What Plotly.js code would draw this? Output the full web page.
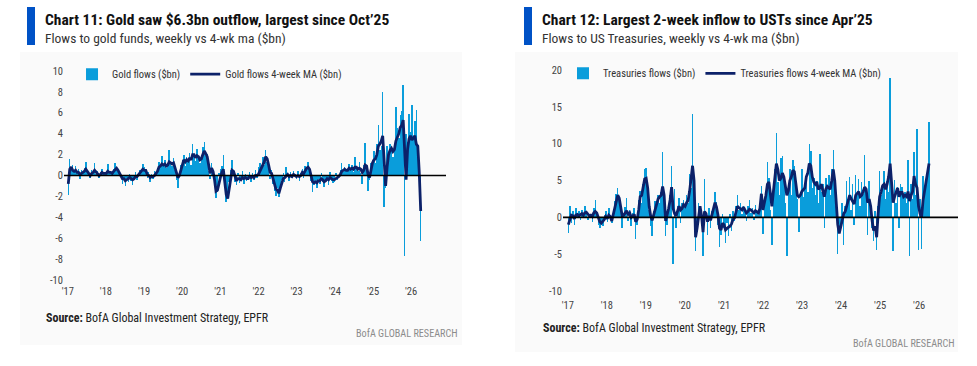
<!DOCTYPE html>
<html><head><meta charset="utf-8">
<script src="https://cdn.plot.ly/plotly-3.0.1.min.js"></script>
<style>
html,body{margin:0;padding:0;background:#fff;width:977px;height:366px;overflow:hidden;}
.fig{position:absolute;top:0;height:366px;}
.bg{position:absolute;background:#fafafa;}
.mark{position:absolute;background:#0052c6;}
</style></head><body>
<div class="bg" style="left:20px;top:52px;width:442px;height:293px"></div>
<div class="bg" style="left:515px;top:52px;width:443px;height:300px"></div>
<div class="mark" style="left:27px;top:7px;width:8px;height:38px"></div>
<div class="mark" style="left:524px;top:7px;width:8px;height:38px"></div>
<div id="g" class="fig" style="left:0;width:488px"></div>
<div id="t" class="fig" style="left:488px;width:489px"></div>
<script>
// ---- data: bi-weekly observations starting 2017-01-06 ----
const START_DATE = '2017-01-06';
const STEP_DAYS = 14;

const goldFlows = [
 -1.9,1.6,0.8,1.0,0.4,0.9,0.3,0.6,-0.3,0.5,0.2,0.7,1.3,0.4,0.2,-0.2,0.5,0.3,1.2,0.1,0.4,-0.2,0.3,0.6,0.1,0.3,
 0.3,1.1,0.2,0.4,0.1,0.6,1.2,0.8,0.3,0.2,-0.1,-0.8,-0.3,-1.0,-0.2,-0.6,0.1,-0.5,-0.9,-0.2,0.3,-0.4,0.2,0.5,0.4,1.1,
 0.8,0.4,-0.2,0.3,-0.6,0.1,-0.3,0.4,0.2,0.6,1.3,0.8,1.9,0.9,1.5,0.7,1.1,2.4,1.2,0.9,1.7,0.5,-0.4,-1.2,0.3,1.0,
 1.5,2.0,0.9,1.8,1.3,2.2,1.0,3.0,2.1,1.4,2.5,1.6,1.2,2.0,2.7,3.2,1.9,2.1,0.4,-0.3,1.2,0.3,-0.8,-2.2,-1.6,0.2,
 0.6,0.9,2.0,-0.8,-2.5,-1.9,-0.6,0.5,1.5,0.3,-0.6,-0.9,0.2,-0.7,-0.3,0.4,-0.8,0.1,-0.5,-0.2,0.3,-0.6,0.2,-0.4,0.5,-0.2,
 0.8,1.2,0.5,1.8,1.0,2.4,1.3,0.6,-0.3,0.5,-0.8,-1.5,-2.0,-1.2,-2.1,-0.9,-0.4,0.2,-0.6,0.8,0.2,-0.5,0.3,-0.2,0.4,0.1,
 -0.3,0.4,-0.5,0.2,0.6,-0.2,0.9,0.7,1.3,0.4,-0.5,-1.6,-0.9,-0.4,-1.2,-0.3,-0.8,0.2,-0.6,-1.1,-0.4,-0.2,-0.9,0.3,-0.5,-0.7,
 -0.6,0.2,-0.4,-0.1,0.5,1.2,0.3,0.8,0.4,0.6,1.1,0.5,1.0,0.3,1.8,0.9,0.4,1.3,0.2,-0.8,1.0,3.1,0.6,-1.5,-0.4,1.2,
 1.5,2.3,1.2,3.0,4.8,2.4,2.8,8.0,-3.0,-1.2,2.8,2.1,3.0,2.6,1.8,2.9,6.6,4.5,3.6,5.8,6.2,8.7,-7.7,4.0,3.2,5.9,
 4.2,6.7,3.5,5.2,6.3,2.9,-1.8,-6.3
];
const goldMA = [
 -0.8,0.6,0.8,0.5,0.4,0.5,0.3,0.3,0.1,0.2,0.3,0.4,0.6,0.4,0.2,0.0,0.2,0.3,0.5,0.3,0.2,0.0,0.1,0.3,0.2,0.2,
 0.2,0.4,0.3,0.3,0.2,0.4,0.6,0.7,0.5,0.2,0.0,-0.3,-0.3,-0.5,-0.4,-0.3,-0.2,-0.3,-0.4,-0.3,-0.1,-0.1,0.1,0.2,0.4,0.6,
 0.5,0.5,0.1,0.0,-0.2,-0.1,-0.1,0.0,0.2,0.4,0.8,0.9,1.1,1.0,1.1,0.9,1.0,1.3,1.2,1.1,1.2,0.8,0.3,-0.2,0.0,0.6,
 1.1,1.5,1.3,1.5,1.4,1.7,1.5,2.0,2.0,1.7,1.9,1.8,1.5,1.6,2.0,2.35,2.1,1.8,1.0,0.2,0.7,0.4,-0.4,-1.5,-1.4,-0.6,
 -0.2,0.3,0.6,-0.6,-1.8,-2.2,-1.3,-0.3,0.5,0.4,-0.1,-0.5,-0.3,-0.3,-0.4,-0.2,-0.3,-0.2,-0.3,-0.3,-0.1,-0.2,-0.1,-0.2,0.0,0.0,
 0.1,0.4,0.6,1.0,1.3,1.8,1.6,1.0,0.3,0.2,-0.3,-0.8,-1.3,-1.4,-1.7,-1.2,-0.6,-0.3,-0.2,0.0,0.1,-0.1,0.0,-0.1,0.1,0.0,
 -0.1,0.0,-0.1,0.0,0.3,0.2,0.5,0.7,0.8,0.6,0.0,-0.6,-0.7,-0.6,-0.7,-0.5,-0.5,-0.3,-0.4,-0.6,-0.5,-0.3,-0.4,-0.2,-0.3,-0.4,
 -0.4,-0.3,-0.2,-0.1,0.1,0.4,0.5,0.6,0.5,0.5,0.7,0.6,0.7,0.6,0.8,0.8,0.6,0.7,0.6,0.3,0.5,1.0,0.9,0.1,-0.2,0.6,
 1.2,1.5,1.6,2.0,2.8,3.0,3.3,3.8,1.5,-1.0,0.8,2.0,2.4,2.6,2.3,2.5,3.3,3.6,4.0,4.6,4.8,5.3,1.5,-0.4,2.5,3.5,
 3.8,3.4,3.6,3.8,3.0,2.8,0.3,-3.4
];
const ustFlows = [
 -2.1,1.5,-0.8,0.9,-1.0,1.2,0.4,0.8,-0.4,1.0,0.3,1.5,0.6,-0.3,0.5,0.2,-0.6,1.3,2.3,0.4,-1.0,-1.4,-0.5,-1.2,0.3,0.9,
 -0.6,1.3,0.2,-0.8,0.9,2.2,3.2,4.0,2.5,0.8,-1.5,0.5,1.4,2.6,-0.5,1.0,-1.2,0.6,1.2,-3.0,-1.0,2.4,3.6,2.0,4.5,6.5,
 6.7,3.0,1.0,-1.2,-2.5,0.8,2.2,1.5,3.1,2.0,3.5,8.9,2.4,-2.6,-1.0,1.8,3.0,7.0,-6.3,3.9,-1.5,1.5,2.6,-0.8,1.9,2.4,
 1.5,3.0,2.0,5.9,4.0,14.0,3.2,-4.6,-2.0,2.0,1.2,-0.8,-5.3,5.2,0.6,-2.4,1.3,-1.5,0.8,1.7,3.5,2.1,-1.0,-4.0,-2.4,0.5,
 -1.5,-3.5,-0.8,-2.6,0.4,-1.8,0.8,-0.5,1.6,3.1,1.0,2.0,0.5,1.6,0.8,-0.5,1.5,2.3,0.6,1.2,-0.4,1.7,0.9,0.3,1.2,4.2,
 -2.2,1.5,3.0,7.5,5.4,1.0,-3.8,3.5,6.5,11.5,4.8,3.0,8.0,8.3,5.0,2.0,-5.3,4.5,6.5,3.0,7.8,7.0,4.0,2.5,-2.0,3.0,
 6.5,2.8,4.5,6.0,3.5,9.9,9.0,4.0,5.3,3.0,5.0,2.0,8.6,3.5,4.5,-1.5,5.4,4.0,5.8,3.0,6.5,9.1,4.5,1.5,-5.0,-1.5,
 -1.0,2.0,-3.8,1.5,4.9,2.5,5.5,1.0,4.5,-1.0,5.8,3.0,5.2,1.5,4.8,3.2,8.5,3.5,-2.4,4.9,2.0,-1.5,-3.2,0.8,-4.5,1.5,
 6.3,3.0,4.5,6.3,2.5,5.0,3.5,18.9,4.0,-4.6,5.1,2.0,4.1,-1.5,4.5,4.1,3.0,3.5,2.0,7.8,-5.2,4.5,2.5,8.9,3.0,12.0,
 -4.4,2.5,-4.3,5.6,4.0,5.0,6.0,12.9
];
const ustMA = [
 -1.0,-0.3,0.3,0.2,-0.2,0.3,0.4,0.2,0.3,0.5,0.3,0.6,0.7,0.4,0.2,0.3,0.1,0.6,0.8,0.6,0.0,-0.6,-0.8,-0.6,-0.3,0.1,
 -0.2,0.3,0.1,-0.5,0.4,1.4,2.3,3.0,2.6,1.4,0.2,0.3,0.7,0.9,0.4,0.6,0.0,0.2,0.4,-0.6,-0.3,1.0,2.8,3.0,4.0,5.2,
 5.3,4.0,1.5,0.2,-0.4,0.3,1.2,2.0,2.5,2.8,3.0,4.2,3.0,-0.5,0.3,1.2,2.4,4.1,1.2,0.5,0.2,0.8,1.5,1.0,1.2,1.7,
 1.5,2.0,2.3,3.5,5.0,7.0,5.0,-2.7,-1.5,0.5,1.5,0.2,-2.0,0.8,0.5,-0.6,0.2,-0.4,0.6,1.2,2.0,1.4,0.3,-1.5,-1.7,-0.8,
 -1.0,-1.7,-1.5,-1.4,-1.2,-0.9,-0.3,-0.1,0.6,1.5,1.3,1.2,1.0,1.4,1.0,0.6,0.8,1.1,1.0,0.8,0.6,0.9,0.7,0.6,1.2,3.2,
 1.0,1.8,3.0,4.5,4.8,3.2,1.5,3.5,6.0,7.3,6.5,5.0,5.3,6.0,5.5,4.0,3.0,3.6,5.0,5.5,6.4,6.2,4.5,3.0,2.8,3.0,
 3.5,3.8,4.0,5.5,6.0,7.3,7.0,5.5,4.8,4.5,4.8,3.8,4.0,4.5,3.5,2.8,3.8,4.2,4.0,3.8,5.0,6.5,5.0,2.3,-1.0,-2.2,
 -1.2,0.0,0.5,0.8,1.5,2.2,3.0,2.5,2.2,1.8,3.0,3.3,3.5,2.8,3.0,3.5,4.1,3.8,2.0,2.5,1.5,-0.5,-1.8,-1.2,-2.7,0.5,
 2.8,3.5,4.3,4.5,3.8,4.5,5.5,7.3,5.0,2.0,2.8,3.5,4.0,2.8,3.4,3.4,2.8,3.0,2.8,3.5,2.2,3.0,3.5,5.6,4.5,4.0,
 1.5,0.5,0.0,2.3,3.5,4.5,5.5,7.3
];
const yearTickDates = ['2017-01-01','2018-01-01','2019-01-01','2020-01-01','2021-01-01','2022-01-01','2023-01-01','2024-01-01','2025-01-01','2026-01-01'];
const yearTickText = ["'17","'18","'19","'20","'21","'22","'23","'24","'25","'26"];
const goldYTicks = [-10,-8,-6,-4,-2,0,2,4,6,8,10];
const ustYTicks = [-10,-5,0,5,10,15,20];

// ---- dates ----
function buildDates(n){
  const t0 = Date.parse(START_DATE+'T00:00:00Z');
  const out = [];
  for(let i=0;i<n;i++) out.push(new Date(t0 + i*STEP_DAYS*86400000).toISOString().slice(0,10));
  return out;
}
const dates = buildDates(goldFlows.length);

const BAR = '#0a9ddb', LINE = '#0c2169';
const FONT = "'Liberation Sans Narrow','Arial Narrow','Roboto Condensed',Lato,sans-serif";

function makeFig(el, cfg){
  const W = cfg.width, H = 366, m = cfg.margin;
  const pw = W - m.l - m.r, ph = H - m.t - m.b;
  const px = x => (x - m.l)/pw, py = y => 1 - (y - m.t)/ph;
  const ann = (x,y,text,o) => Object.assign({xref:'paper',yref:'paper',x:px(x),y:py(y),text:text,showarrow:false,
      xanchor:'left',yanchor:'middle',font:{family:FONT,size:10,color:'#222'}}, o||{});
  const traces = [
    {type:'bar', x:dates, y:cfg.flows, name:cfg.barName, marker:{color:BAR,line:{width:0}}},
    {type:'scatter', mode:'lines', x:dates, y:cfg.ma, name:cfg.lineName, line:{color:LINE,width:2.8}}
  ];
  const layout = {
    width:W, height:H, margin:m, paper_bgcolor:'rgba(0,0,0,0)', plot_bgcolor:'rgba(0,0,0,0)',
    bargap:0, showlegend:true,
    font:{family:FONT,size:10,color:'#444'},
    legend:{orientation:'h', x:cfg.legX, y:cfg.legY, xanchor:'left', yanchor:'middle', bgcolor:'rgba(0,0,0,0)',
            font:{family:FONT,size:10.5,color:'#333'}, itemwidth:30},
    xaxis:{type:'date', range:cfg.xRange, tickvals:yearTickDates, ticktext:yearTickText, showgrid:false,
           zeroline:false, showline:false, ticks:'', ticklabelstandoff:cfg.xStand,
           tickfont:{family:FONT,size:10.5,color:'#444'}},
    yaxis:{range:cfg.yRange, tickvals:cfg.yTicks, ticktext:cfg.yTicks.map(String), showgrid:false,
           zeroline:false, showline:false, ticks:'', tickfont:{family:FONT,size:10.5,color:'#444'}},
    shapes:[{type:'line', xref:'paper', yref:'y', x0:0, x1:1, y0:0, y1:0, line:{color:'#000',width:1.6}, layer:'above'}],
    annotations:[
      ann(cfg.tx, 20, '<b>'+cfg.title+'</b>', {font:{family:FONT,size:15.5,color:'#111'}}),
      ann(cfg.tx, 38, cfg.subtitle, {font:{family:FONT,size:13.5,color:'#333'}}),
      ann(cfg.sx, cfg.sy, '<b>Source:</b> BofA Global Investment Strategy, EPFR', {font:{family:FONT,size:12,color:'#222'}}),
      ann(cfg.bx, cfg.by, 'BofA GLOBAL RESEARCH', {xanchor:'right', font:{family:FONT,size:10.2,color:'#8c8c8c'}})
    ]
  };
  Plotly.newPlot(el, traces, layout, {staticPlot:true, displayModeBar:false});
}

makeFig('g', {
  width:488, margin:{l:64,r:42,t:71,b:86},
  flows:goldFlows, ma:goldMA, barName:'Gold flows ($bn)', lineName:'Gold flows 4-week MA ($bn)',
  xRange:['2016-11-26','2026-12-01'], yRange:[-10,10], yTicks:goldYTicks, xStand:3,
  legX:0.021, legY:0.985,
  title:'Chart 11: Gold saw $6.3bn outflow, largest since Oct\u201925',
  subtitle:'Flows to gold funds, weekly vs 4-wk ma ($bn)',
  tx:43, sx:44, sy:318, bx:460, by:333
});
makeFig('t', {
  width:489, margin:{l:75,r:19,t:70,b:75},
  flows:ustFlows, ma:ustMA, barName:'Treasuries flows ($bn)', lineName:'Treasuries flows 4-week MA ($bn)',
  xRange:['2016-11-17','2026-12-30'], yRange:[-10,20], yTicks:ustYTicks, xStand:6,
  legX:0.0, legY:0.985,
  title:'Chart 12: Largest 2-week inflow to USTs since Apr\u201925',
  subtitle:'Flows to US Treasuries, weekly vs 4-wk ma ($bn)',
  tx:52, sx:53, sy:328, bx:469, by:343
});
</script>
</body></html>
